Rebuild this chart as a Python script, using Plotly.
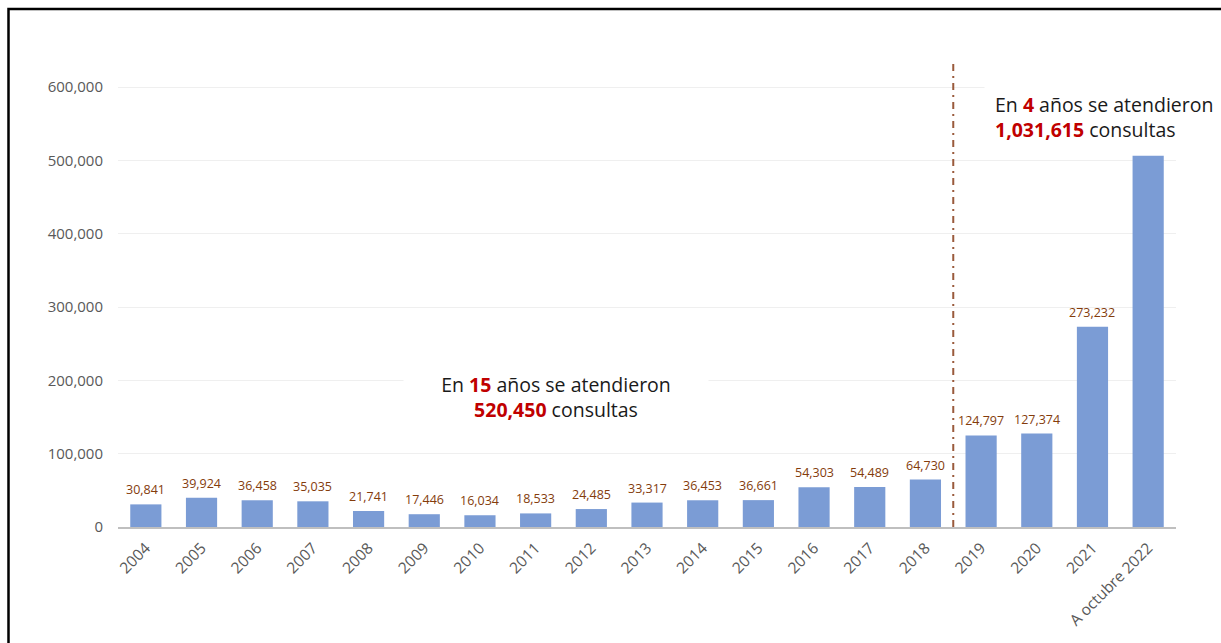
import plotly.graph_objects as go

categories = ["2004", "2005", "2006", "2007", "2008", "2009", "2010", "2011", "2012",
              "2013", "2014", "2015", "2016", "2017", "2018", "2019", "2020", "2021",
              "A octubre 2022"]
values = [30841, 39924, 36458, 35035, 21741, 17446, 16034, 18533, 24485,
          33317, 36453, 36661, 54303, 54489, 64730, 124797, 127374, 273232, 506212]
labeled = [True] * 18 + [False]
y_ticks = [0, 100000, 200000, 300000, 400000, 500000, 600000]
y_ticktext = [f"{v:,}" for v in y_ticks]

FONT = "Open Sans"
BAR = "#7B9CD5"
LABEL = "#843C0C"
RED = "#C00000"

fig = go.Figure()
fig.add_trace(go.Bar(
    x=categories, y=values,
    marker=dict(color=BAR, line=dict(width=0)),
    hoverinfo="skip",
))

# data labels (category axis annotations use the category index)
for i, (v, show) in enumerate(zip(values, labeled)):
    if show:
        fig.add_annotation(x=i, y=v, xref="x", yref="y", text=f"{v:,}", showarrow=False,
                           xanchor="center", yanchor="bottom", yshift=5, borderpad=0,
                           font=dict(family=FONT, size=12.5, color=LABEL))

fig.update_layout(
    width=1221, height=643,
    margin=dict(l=118, r=45, t=50, b=116),
    paper_bgcolor="white", plot_bgcolor="white",
    bargap=0.44, showlegend=False,
    font=dict(family=FONT, color="#595959"),
)
fig.update_xaxes(
    type="category", range=[-0.5, 18.5], tickangle=-45,
    tickfont=dict(family=FONT, size=15.5, color="#595959"),
    showline=True, linecolor="#BFBFBF", linewidth=2, showgrid=False, ticks="",
    ticklabelstandoff=4,
)
fig.update_yaxes(
    range=[0, 650500], tickvals=y_ticks, ticktext=y_ticktext,
    tickfont=dict(family=FONT, size=15, color="#595959"),
    showgrid=True, gridcolor="#EFEFEF", gridwidth=1, zeroline=False,
    showline=False, ticks="", ticklabelstandoff=14,
)

# divider between periods
fig.add_shape(type="line", xref="x", yref="y", x0=14.5, x1=14.5, y0=0, y1=634000,
              line=dict(color="#9A5A3C", width=2, dash="7px,5px,2px,5px"))

# outer border
fig.add_shape(type="rect", xref="paper", yref="paper",
              x0=-0.1035, x1=1.06, y0=-0.27, y1=1.086,
              line=dict(color="black", width=2.5), fillcolor="rgba(0,0,0,0)", layer="above")

fig.add_annotation(
    xref="x", yref="y", x=7.36, y=177000, xanchor="center", yanchor="middle",
    text=f"En <span style='color:{RED}'><b>15</b></span> años se atendieron<br>"
         f"<span style='color:{RED}'><b>520,450</b></span> consultas",
    showarrow=False, align="center", bgcolor="white", width=300, borderpad=2,
    font=dict(family=FONT, size=19.5, color="#1A1A1A"),
)
fig.add_annotation(
    xref="x", yref="y", x=15.05, y=559000, xanchor="left", yanchor="middle",
    text=f"En <span style='color:{RED}'><b>4</b></span> años se atendieron<br>"
         f"<span style='color:{RED}'><b>1,031,615</b></span> consultas",
    showarrow=False, align="left", bgcolor="white", borderpad=10,
    font=dict(family=FONT, size=19.5, color="#1A1A1A"),
)

fig.write_html("out.html")
